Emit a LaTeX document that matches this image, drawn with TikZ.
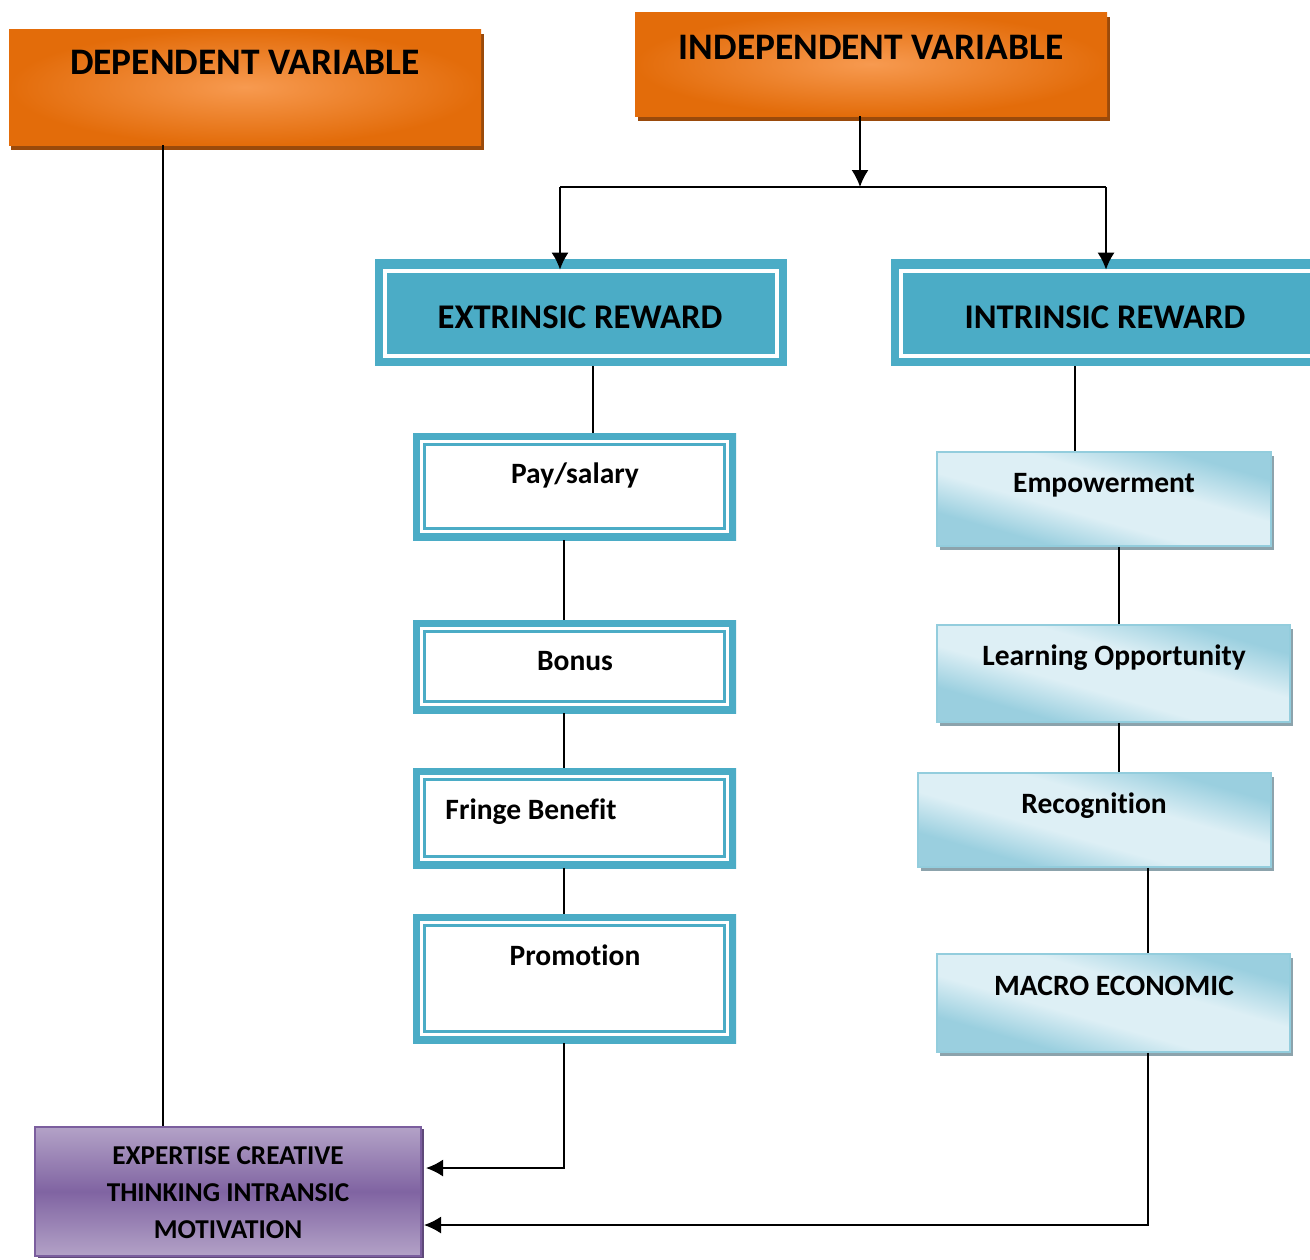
\documentclass[tikz,border=0pt]{standalone}
\usepackage{fontspec}
\setmainfont{Carlito}[Ligatures=NoCommon]
\usetikzlibrary{fit,shadows,arrows.meta,calc}

\definecolor{orDark}{HTML}{E36C0A}
\definecolor{orLight}{HTML}{F79A50}
\definecolor{orShadow}{HTML}{9A4A0B}
\definecolor{rwTeal}{HTML}{4BACC6}
\definecolor{skyDark}{HTML}{9ACFDF}
\definecolor{skyLight}{HTML}{DDEFF5}
\definecolor{skyEdge}{HTML}{93CDDD}
\definecolor{skyShadow}{HTML}{8CA3AC}
\definecolor{puTop}{HTML}{B3A2C7}
\definecolor{puMid}{HTML}{8064A2}
\definecolor{puEdge}{HTML}{7B5E9E}
\definecolor{puShadow}{HTML}{5F497A}

% diagonal sheen for the light blue boxes: dark ends, broad light band
\pgfdeclareverticalshading{skyband}{100bp}{
  color(0bp)=(skyDark); color(30bp)=(skyDark);
  color(43bp)=(skyLight); color(58bp)=(skyLight);
  color(72bp)=(skyDark); color(100bp)=(skyDark)}

\tikzset{
  % orange variable headers
  varbox/.style={inner sep=0pt, draw=none, inner color=orLight, outer color=orDark,
    drop shadow={shadow xshift=0.05cm, shadow yshift=-0.09cm, fill=orShadow, opacity=1}},
  % teal reward headers with an inset white frame
  headbox/.style={inner sep=0pt, fill=rwTeal,
    path picture={\draw[white, line width=0.08cm]
      ([shift={(0.2cm,-0.24cm)}]path picture bounding box.north west) rectangle
      ([shift={(-0.2cm,0.2cm)}]path picture bounding box.south east);}},
  % white boxes with a double teal frame
  itembox/.style={inner sep=0pt, fill=white,
    path picture={\draw[rwTeal, line width=0.28cm]
      (path picture bounding box.north west) rectangle (path picture bounding box.south east);
      \draw[rwTeal, line width=0.06cm]
      ([shift={(0.23cm,-0.23cm)}]path picture bounding box.north west) rectangle
      ([shift={(-0.23cm,0.23cm)}]path picture bounding box.south east);}},
  % light blue shaded boxes
  softbox/.style={inner sep=0pt, draw=skyEdge, line width=0.03cm,
    shading=skyband, shading angle=-16,
    drop shadow={shadow xshift=0.05cm, shadow yshift=-0.08cm, fill=skyShadow, opacity=1}},
  % purple outcome box
  purplebox/.style={inner sep=0pt, draw=puEdge, line width=0.04cm,
    top color=puTop, bottom color=puTop, middle color=puMid,
    drop shadow={shadow xshift=0.05cm, shadow yshift=-0.03cm, fill=puShadow, opacity=1}},
  conn/.style={draw=black, line width=0.035cm},
  arr/.style={conn, -{Latex[length=0.34cm,width=0.34cm]}},
  hdrtxt/.style={font=\bfseries\fontsize{21.3}{25}\selectfont, inner sep=0pt, text height=13.7pt, text depth=0pt},
  headtxt/.style={font=\bfseries\fontsize{19.7}{23}\selectfont, inner sep=0pt, text height=12.7pt, text depth=0pt},
  itemtxt/.style={font=\bfseries\fontsize{16.8}{20}\selectfont, inner sep=0pt, text height=10.8pt, text depth=0pt},
  putxt/.style={font=\bfseries\fontsize{15.5}{21}\selectfont, inner sep=0pt, align=center},
}

\begin{document}
\begin{tikzpicture}[x=0.02cm, y=-0.02cm]
\fill[white] (0,0) rectangle (1310,1259);
\useasboundingbox (0,0) rectangle (1310,1259);

% boxes
\node[varbox, fit={(9,29)(481,145)}] (dep) {};
\node[varbox, fit={(635,12)(1107,116)}] (indep) {};
\node[headbox, fit={(375,259)(787,366)}] (ext) {};
\node[headbox, fit={(891,259)(1322,366)}] (int) {};
\node[itembox, fit={(413,433)(736,540)}] (pay) {};
\node[itembox, fit={(413,620)(736,713)}] (bonus) {};
\node[itembox, fit={(413,768)(736,868)}] (fringe) {};
\node[itembox, fit={(413,914)(736,1043)}] (promo) {};
\node[softbox, fit={(937,452)(1271,546)}] (emp) {};
\node[softbox, fit={(937,625)(1290,722)}] (learn) {};
\node[softbox, fit={(918,773)(1271,867)}] (recog) {};
\node[softbox, fit={(937,954)(1290,1052)}] (macro) {};
\node[purplebox, fit={(35,1127)(421,1256)}] (motiv) {};

% branching from the independent variable
\coordinate (split) at (860,187);
\coordinate (brL) at (560,187);
\coordinate (brR) at (1106,187);
\draw[arr] (split |- indep.south) -- (split);
\draw[conn] (brL) -- (brR);
\draw[arr] (brL) -- ($(brL |- ext.north)+(0,11)$);
\draw[arr] (brR) -- ($(brR |- int.north)+(0,11)$);

% extrinsic chain
\draw[conn] ($(ext.south)+(12,0)$) -- ($(ext.south |- pay.north)+(12,0)$);
\draw[conn] ($(pay.south)+(-10.5,0)$) -- ($(bonus.north)+(-10.5,0)$);
\draw[conn] ($(bonus.south)+(-10.5,0)$) -- ($(fringe.north)+(-10.5,0)$);
\draw[conn] ($(fringe.south)+(-10.5,0)$) -- ($(promo.north)+(-10.5,0)$);
\draw[arr] ($(promo.south)+(-10.5,0)$) |- ($(motiv.east)+(4,-23.5)$);

% intrinsic chain
\draw[conn] ($(int.south)+(-31.5,0)$) -- ($(int.south |- emp.north)+(-31.5,0)$);
\draw[conn] ($(emp.south)+(15,0)$) -- ($(emp.south |- learn.north)+(15,0)$);
\draw[conn] ($(learn.south)+(5.5,0)$) -- ($(learn.south |- recog.north)+(5.5,0)$);
\draw[conn] ($(recog.south)+(53.5,0)$) -- ($(recog.south |- macro.north)+(53.5,0)$);
\draw[arr] ($(macro.south)+(34.5,0)$) |- ($(motiv.east)+(2,33.5)$);

% dependent variable link
\draw[conn] ($(dep.south)+(-82,0)$) -- ($(dep.south |- motiv.north)+(-82,0)$);

% labels
\node[hdrtxt] (depT) at (245,62) {DEPENDENT VARIABLE};
\node[hdrtxt] (indepT) at (871,47) {INDEPENDENT VARIABLE};
\node[headtxt] (extT) at (580,317) {EXTRINSIC REWARD};
\node[headtxt] (intT) at (1105,317) {INTRINSIC REWARD};
\node[itemtxt] (payT) at (575,474) {Pay/salary};
\node[itemtxt] (bonusT) at (575,661) {Bonus};
\node[itemtxt] (fringeT) at (531,810) {Fringe Benefit};
\node[itemtxt] (promoT) at (575,956) {Promotion};
\node[itemtxt] (empT) at (1104,483) {Empowerment};
\node[itemtxt] (learnT) at (1114,656) {Learning Opportunity};
\node[itemtxt] (recogT) at (1094,804) {Recognition};
\node[itemtxt] (macroT) at (1114,986) {MACRO ECONOMIC};
\node[putxt] (motivT) at (228,1193) {EXPERTISE CREATIVE\\THINKING INTRANSIC\\MOTIVATION};
\end{tikzpicture}
\end{document}
